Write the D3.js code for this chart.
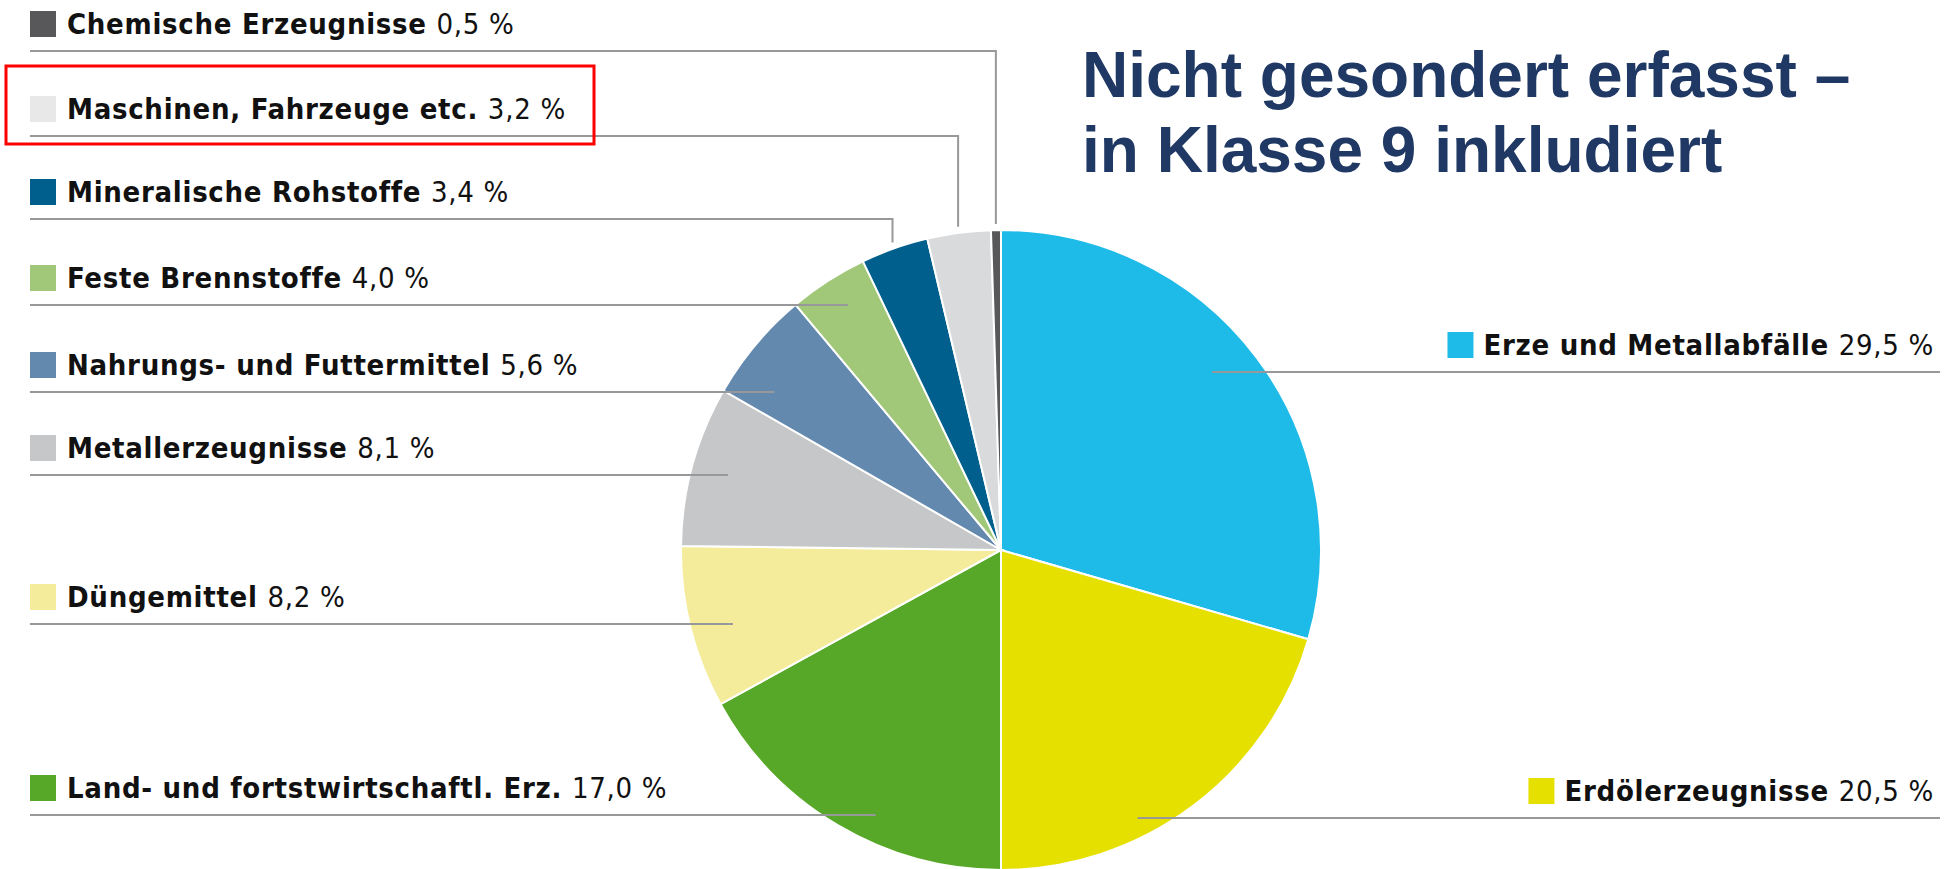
<!DOCTYPE html>
<html lang="de">
<head>
  <meta charset="UTF-8">
  <title>Güterklassen</title>
  <script src="https://d3js.org/d3.v7.min.js"></script>
  <style>
    body { margin: 0; background: #fff; }
    .lbl { font-family: "DejaVu Sans Condensed", "DejaVu Sans", sans-serif; font-stretch: condensed; font-size: 29px; fill: #111; letter-spacing: 0.7px; }
    .lbl .name { font-weight: bold; }
    .title { font-family: "Liberation Sans", Arial, sans-serif; font-weight: bold; font-size: 64px; fill: #203864; }
  </style>
</head>
<body>
  <svg width="1954" height="869"></svg>
  <script>
    // pie order: from 12 o'clock, clockwise
    const categories = ["Erze und Metallabfälle", "Erdölerzeugnisse", "Land- und fortstwirtschaftl. Erz.",
      "Düngemittel", "Metallerzeugnisse", "Nahrungs- und Futtermittel", "Feste Brennstoffe",
      "Mineralische Rohstoffe", "Maschinen, Fahrzeuge etc.", "Chemische Erzeugnisse"];
    const shares = [29.5, 20.5, 17.0, 8.2, 8.1, 5.6, 4.0, 3.4, 3.2, 0.5];
    const colors = ["#1fbbe8", "#e6e000", "#57a828", "#f4ec9a", "#c6c7c9", "#6389ae", "#a0c878", "#005f8c", "#d9dadc", "#58585a"];
    const swatchColors = ["#1fbbe8", "#e6e000", "#57a828", "#f4ec9a", "#c6c7c9", "#6389ae", "#a0c878", "#005f8c", "#e8e8e8", "#58585a"];

    // label layout: side, leader line y, leader kind, radius factor for leader end
    const labelSide = ["right", "right", "left", "left", "left", "left", "left", "left", "left", "left"];
    const labelLineY = [372, 818, 815, 624, 475, 392, 305, 219, 136, 51];
    const leaderEnd = [0.863, 0.94, 0.916, 0.869, 0.885, 0.863, 0.903, "top", "top", "top"];
    const highlighted = "Maschinen, Fahrzeuge etc.";

    const titleLines = ["Nicht gesondert erfasst –", "in Klasse 9 inkludiert"];

    const cx = 1001, cy = 550, r = 320;
    const svg = d3.select("svg");
    const fmt = v => d3.format(".1f")(v).replace(".", ",") + " %";

    const pie = d3.pie().sort(null).value(d => d.value);
    const arc = d3.arc().innerRadius(0).outerRadius(r);
    const data = categories.map((c, i) => ({ name: c, value: shares[i], i }));
    const arcs = pie(data);

    const g = svg.append("g").attr("transform", `translate(${cx},${cy})`);
    g.selectAll("path.slice")
      .data(arcs)
      .join("path")
      .attr("class", "slice")
      .attr("d", arc)
      .attr("fill", d => colors[d.data.i])
      .attr("stroke", "#fff")
      .attr("stroke-width", 2);

    // leader lines
    const lineColor = "#979899";
    arcs.forEach(a => {
      const i = a.data.i;
      const y = labelLineY[i];
      const mid = (a.startAngle + a.endAngle) / 2;
      let pts;
      if (leaderEnd[i] === "top") {
        const ex = cx + (r + 6) * Math.sin(mid);
        const ey = cy - (r + 6) * Math.cos(mid);
        pts = [[30, y], [ex, y], [ex, ey]];
      } else {
        const R = leaderEnd[i] * r;
        const dx = Math.sqrt(Math.max(0, R * R - (y - cy) * (y - cy)));
        pts = labelSide[i] === "left" ? [[30, y], [cx - dx, y]] : [[cx + dx, y], [1940, y]];
      }
      svg.append("path")
        .attr("d", d3.line()(pts))
        .attr("fill", "none")
        .attr("stroke", lineColor)
        .attr("stroke-width", 2);
    });

    // labels
    data.forEach(d => {
      const i = d.i;
      const base = labelLineY[i] - 17;
      const t = svg.append("text").attr("class", "lbl").attr("y", base);
      t.append("tspan").attr("class", "name").text(d.name + " ");
      t.append("tspan").text(fmt(d.value));
      let sx;
      if (labelSide[i] === "left") {
        t.attr("x", 67);
        sx = 30;
      } else {
        const w = t.node().getComputedTextLength();
        t.attr("x", 1934 - w);
        sx = 1934 - w - 36;
      }
      svg.append("rect")
        .attr("x", sx).attr("y", base - 23)
        .attr("width", 26).attr("height", 26)
        .attr("fill", swatchColors[i]);
    });

    // highlight box
    const hi = data.find(d => d.name === highlighted);
    const hy = labelLineY[hi.i];
    svg.append("rect")
      .attr("x", 6).attr("y", hy - 70)
      .attr("width", 588).attr("height", 78)
      .attr("fill", "none")
      .attr("stroke", "#ff0000")
      .attr("stroke-width", 3);

    // title
    svg.selectAll("text.title")
      .data(titleLines)
      .join("text")
      .attr("class", "title")
      .attr("x", 1082)
      .attr("y", (d, k) => 97 + k * 75)
      .text(d => d);
  </script>
</body>
</html>
